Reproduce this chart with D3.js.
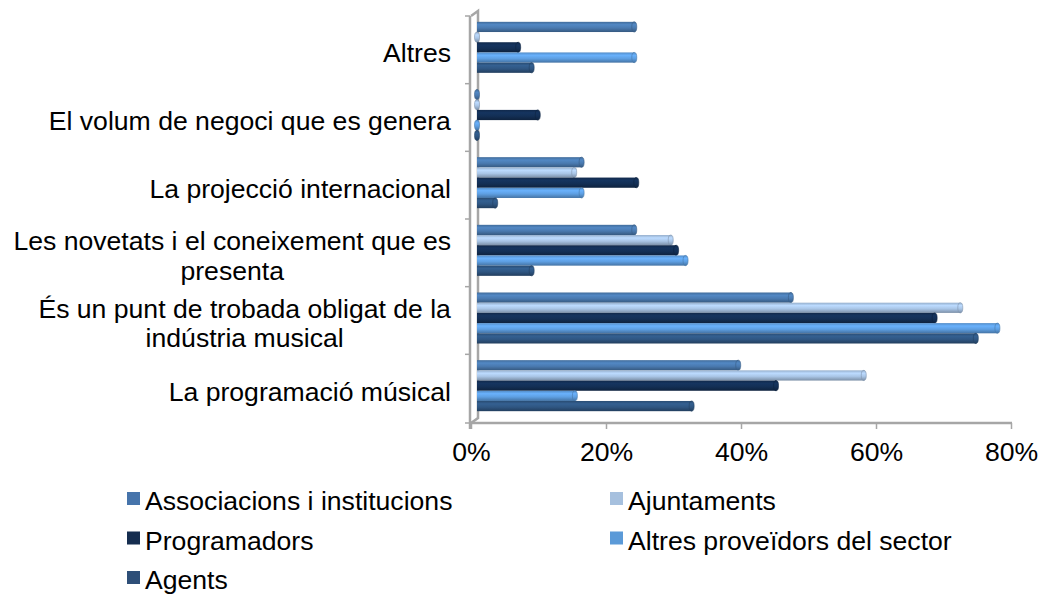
<!DOCTYPE html>
<html>
<head>
<meta charset="utf-8">
<script src="https://cdn.jsdelivr.net/npm/d3@7"></script>
<style>
body { margin: 0; background: #ffffff; }
</style>
</head>
<body>
<div id="barSection"></div>
<script>
// categories, top to bottom
const categories = [
    "Altres",
    "El volum de negoci que es genera",
    "La projecció internacional",
    "Les novetats i el coneixement que es presenta",
    "És un punt de trobada obligat de la indústria musical",
    "La programació músical"
];
const categoryLines = [
    ["Altres"],
    ["El volum de negoci que es genera"],
    ["La projecció internacional"],
    ["Les novetats i el coneixement que es", "presenta"],
    ["És un punt de trobada obligat de la", "indústria musical"],
    ["La programació músical"]
];

const seriesNames = ["Associacions i institucions", "Ajuntaments", "Programadors", "Altres proveïdors del sector", "Agents"];

// shares per category (same order as categories)
const associacions = [0.233, 0, 0.155, 0.233, 0.465, 0.387];
const ajuntaments = [0, 0, 0.144, 0.287, 0.716, 0.573];
const programadors = [0.061, 0.090, 0.236, 0.295, 0.678, 0.443];
const altresProveidors = [0.233, 0, 0.155, 0.309, 0.771, 0.145];
const agents = [0.081, 0, 0.027, 0.081, 0.739, 0.318];

const xTicks = [0, 0.2, 0.4, 0.6, 0.8];

const seriesValues = [associacions, ajuntaments, programadors, altresProveidors, agents];
const seriesColors = ["#4a7ab0", "#a9c5e6", "#132f55", "#5e9fe2", "#2f5682"];
const legendColors = ["#4674ab", "#a6c0de", "#152d4f", "#5b9ad8", "#2e4f78"];

/**
 * Proportions of the SVG
 */
let svgWidth = 1039;
let svgHeight = 595;

// plot area (front plane)
let plotTop = 16;
let plotBottom = 423;
let frontLeft = 471;
let frontRight = 1011;

// 3D depth offset of the back plane
let depthX = 7;
let depthY = -5;

let fontSize = 26.6;
let legendFontSize = 26.6;

const yBand = d3.scaleBand()
    .domain(categories)
    .range([plotTop, plotBottom - 1])
    .paddingInner(0.246)
    .paddingOuter(0.123);

const ySeries = d3.scaleBand()
    .domain(d3.range(seriesNames.length))
    .range([0, yBand.bandwidth()]);

const xFront = d3.scaleLinear()
    .domain([0, 0.8])
    .range([frontLeft, frontRight]);

const xBack = d3.scaleLinear()
    .domain([0, 0.8])
    .range([frontLeft + 6, frontRight + 6]);

function initSVG() {
    const svg = d3.select("#barSection")
        .append("svg")
        .attr("id", "barSvg")
        .attr("width", svgWidth)
        .attr("height", svgHeight)
        .style("font-family", "'Liberation Sans', Arial, sans-serif");

    const defs = svg.append("defs");
    seriesColors.forEach((c, i) => {
        const g = defs.append("linearGradient")
            .attr("id", "barGrad" + i)
            .attr("x1", 0).attr("y1", 0)
            .attr("x2", 0).attr("y2", 1);
        g.append("stop").attr("offset", "0%").attr("stop-color", d3.color(c).darker(0.35));
        g.append("stop").attr("offset", "28%").attr("stop-color", d3.color(c).brighter(0.3));
        g.append("stop").attr("offset", "60%").attr("stop-color", c);
        g.append("stop").attr("offset", "100%").attr("stop-color", d3.color(c).darker(0.9));
    });
}

function drawFrame() {
    const svg = d3.select("#barSvg");
    const frame = svg.append("g").attr("id", "frameWrapper")
        .attr("stroke", "#a6a6a6")
        .attr("fill", "none");

    // back wall edge
    frame.append("path")
        .attr("d", `M${frontLeft},${plotTop} L${frontLeft + depthX},${plotTop + depthY} L${frontLeft + depthX},${plotBottom + depthY} L${frontLeft},${plotBottom}`)
        .attr("stroke-width", 2.5);

    // front vertical axis
    frame.append("line")
        .attr("x1", frontLeft - 1).attr("x2", frontLeft - 1)
        .attr("y1", plotTop).attr("y2", plotBottom + 6)
        .attr("stroke-width", 2.5);

    // category ticks
    const boundaries = categories.map(c => yBand(c) - yBand.step() * yBand.paddingInner() / 2);
    boundaries.push(plotBottom);
    frame.selectAll(".catTick")
        .data(boundaries)
        .enter()
        .append("line")
        .attr("x1", frontLeft - 6).attr("x2", frontLeft - 1)
        .attr("y1", d => d).attr("y2", d => d)
        .attr("stroke-width", 1.5);

    // x axis
    const xAxis = d3.axisBottom(xFront)
        .tickValues(xTicks)
        .tickFormat(d3.format(".0%"))
        .tickSize(6)
        .tickSizeOuter(0);
    const ax = svg.append("g")
        .attr("transform", `translate(0, ${plotBottom})`)
        .call(xAxis);
    ax.select(".domain")
        .attr("stroke", "#a6a6a6")
        .attr("stroke-width", 2.5)
        .attr("d", `M${frontLeft - 2},0H${frontRight + 1}`);
    ax.selectAll(".tick line").attr("stroke", "#a6a6a6").attr("stroke-width", 1.5);
    ax.selectAll(".tick text")
        .attr("y", 19)
        .attr("dy", "0.71em")
        .attr("fill", "#000")
        .style("font-family", "'Liberation Sans', Arial, sans-serif")
        .style("font-size", fontSize + "px");
}

function drawBars() {
    const svg = d3.select("#barSvg");
    const barH = ySeries.bandwidth();

    seriesValues.forEach((values, j) => {
        const g = svg.append("g").attr("class", "series" + j);
        const rows = values.map((v, i) => ({ v: v, cat: categories[i] }));
        const yOf = d => yBand(d.cat) - 2.5 + ySeries(j);

        g.selectAll("rect")
            .data(rows.filter(d => d.v > 0))
            .enter()
            .append("rect")
            .attr("x", xBack(0))
            .attr("y", yOf)
            .attr("width", d => xBack(d.v) - xBack(0))
            .attr("height", barH)
            .attr("fill", `url(#barGrad${j})`);

        // rounded end caps
        g.selectAll("ellipse")
            .data(rows)
            .enter()
            .append("ellipse")
            .attr("cx", d => xBack(d.v))
            .attr("cy", d => yOf(d) + barH / 2)
            .attr("rx", 2.5)
            .attr("ry", barH / 2)
            .attr("fill", `url(#barGrad${j})`)
            .attr("stroke", d3.color(seriesColors[j]).darker(0.8))
            .attr("stroke-width", 0.6);
    });
}

function drawCategoryLabels() {
    const svg = d3.select("#barSvg");
    const lineH = 29.5;
    const labels = svg.append("g").attr("id", "catLabels");
    categories.forEach((c, i) => {
        const lines = categoryLines[i];
        const mid = yBand(c) + yBand.bandwidth() / 2;
        const first = lines.length === 1 ? mid + 12.5 : mid + 12 - lineH / 2;
        const t = labels.append("text")
            .attr("text-anchor", "middle")
            .attr("font-size", fontSize)
            .attr("fill", "#000");
        lines.forEach((ln, k) => {
            t.append("tspan")
                .attr("x", 0)
                .attr("y", first + k * lineH)
                .text(ln);
        });
        // right-align the block, centre the lines within it
        const w = t.node().getBBox().width;
        t.attr("transform", `translate(${451 - w / 2}, 0)`);
    });
}

function drawLegend() {
    const svg = d3.select("#barSvg");
    const legend = svg.append("g").attr("id", "legendWrapper");
    const items = legend.selectAll(".legendItem")
        .data(seriesNames)
        .enter()
        .append("g")
        .attr("transform", (_, i) => `translate(${i % 2 === 0 ? 127 : 610}, ${510 + Math.floor(i / 2) * 39.5})`);
    items.append("rect")
        .attr("x", 0)
        .attr("y", -18)
        .attr("width", 13)
        .attr("height", 13)
        .attr("fill", (_, i) => legendColors[i]);
    items.append("text")
        .attr("x", 18)
        .attr("y", 0)
        .attr("font-size", legendFontSize)
        .attr("fill", "#000")
        .text(d => d);
}

initSVG();
drawFrame();
drawBars();
drawCategoryLabels();
drawLegend();
</script>
</body>
</html>
